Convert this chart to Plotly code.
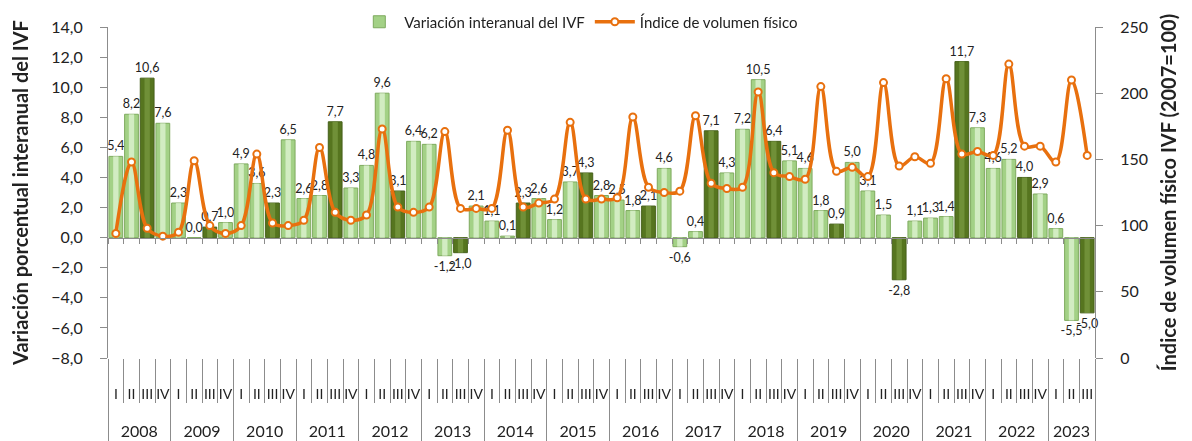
import plotly.graph_objects as go

# Datos trimestrales 2008-I a 2023-III
years = ["2008", "2009", "2010", "2011", "2012", "2013", "2014", "2015",
         "2016", "2017", "2018", "2019", "2020", "2021", "2022", "2023"]
quarters = ["I", "II", "III", "IV"]

# Variación interanual del IVF (%)
variacion = [5.4, 8.2, 10.6, 7.6,
             2.3, 0.0, 0.7, 1.0,
             4.9, 3.6, 2.3, 6.5,
             2.6, 2.8, 7.7, 3.3,
             4.8, 9.6, 3.1, 6.4,
             6.2, -1.2, -1.0, 2.1,
             1.1, 0.1, 2.3, 2.6,
             1.2, 3.7, 4.3, 2.8,
             2.5, 1.8, 2.1, 4.6,
             -0.6, 0.4, 7.1, 4.3,
             7.2, 10.5, 6.4, 5.1,
             4.6, 1.8, 0.9, 5.0,
             3.1, 1.5, -2.8, 1.1,
             1.3, 1.4, 11.7, 7.3,
             4.6, 5.2, 4.0, 2.9,
             0.6, -5.5, -5.0]

# Índice de volumen físico (2007=100)
ivf = [94, 148, 98, 92,
       95, 149, 100, 94,
       100, 154, 102, 100,
       104, 159, 110, 104,
       108, 173, 114, 110,
       114, 171, 113, 113,
       113, 172, 114, 117,
       120, 178, 120, 120,
       121, 182, 129, 125,
       126, 183, 132, 128,
       129, 201, 140, 137,
       135, 205, 141, 144,
       137, 208, 145, 152,
       147, 211, 154, 156,
       153, 222, 160, 160,
       148, 210, 153]

n = len(variacion)
idx = list(range(n))
q_labels = [quarters[i % 4] for i in idx]
q_bounds = [i - 0.5 for i in range(n + 1)]
year_centers = [min(4 * k + 1.5, (4 * k + n - 1) / 2) for k in range(len(years))]
year_bounds = [4 * k - 0.5 for k in range(len(years))] + [n - 0.5]

light, light_hi, light_edge = "#a3d186", "#e2f5d6", "#7eaa5e"
dark, dark_hi, dark_edge = "#56751f", "#7a9a42", "#46601a"
bar_col = [dark if q == "III" else light for q in q_labels]
bar_hi = [dark_hi if q == "III" else light_hi for q in q_labels]
bar_edge = [dark_edge if q == "III" else light_edge for q in q_labels]

orange = "#E8700E"
axis_gray = "#8c8c8c"

# la pagina tiene un margen de 8 px: la figura se reduce en esa medida
W, H, MB = 1184, 433, 83
paper_h = H - MB
y_top = (paper_h - 19) / paper_h
zero_pos = (8 / 22) * y_top

fig = go.Figure()

fig.add_trace(go.Bar(
    x=idx, y=variacion, width=0.88,
    marker=dict(color=bar_col, line=dict(color=bar_edge, width=1)),
    texttemplate="%{y:.1f}", textposition="outside", constraintext="none",
    textfont=dict(size=12.5, color="#222222"), cliponaxis=False,
    name="Variación interanual del IVF",
))
# brillo central de las barras
fig.add_trace(go.Bar(
    x=idx, y=variacion, width=0.34,
    marker=dict(color=bar_hi, line=dict(width=0)), opacity=0.75,
    showlegend=False, hoverinfo="skip",
))

fig.add_trace(go.Scatter(
    x=idx, y=ivf, yaxis="y2", mode="lines+markers",
    line=dict(color=orange, width=3.5, shape="spline", smoothing=1.0),
    marker=dict(symbol="circle", size=7, color="white",
                line=dict(color=orange, width=2)),
    name="Índice de volumen físico",
))

# trazas vacias para que se dibujen los ejes auxiliares
for ax in ["x2", "x3"]:
    fig.add_trace(go.Scatter(x=[0], y=[0], xaxis=ax, yaxis="y", mode="none",
                             showlegend=False, hoverinfo="skip"))

rng = [-0.5, n - 0.5]

fig.update_layout(
    width=W, height=H,
    margin=dict(l=100, r=97, t=0, b=MB, autoexpand=False),
    separators=",.",
    barmode="overlay",
    plot_bgcolor="white", paper_bgcolor="white",
    font=dict(family="Lato", size=14, color="#222222"),
    legend=dict(orientation="h", x=0.477, xanchor="center",
                y=(paper_h - 14) / paper_h, yanchor="middle",
                font=dict(size=15), bgcolor="rgba(0,0,0,0)", itemwidth=40),
    xaxis=dict(
        range=rng, tickmode="array", tickvals=idx, ticktext=q_labels,
        ticks="outside", ticklen=23, tickcolor="rgba(0,0,0,0)",
        tickfont=dict(size=14), showgrid=False, zeroline=False, showline=False,
        automargin=False,
        minor=dict(tickmode="array", tickvals=q_bounds, ticks="outside",
                   ticklen=44, tickcolor=axis_gray, tickwidth=1),
    ),
    xaxis2=dict(
        overlaying="x", anchor="free", position=zero_pos, range=rng,
        tickmode="array", tickvals=q_bounds, ticks="outside", ticklen=5,
        tickcolor=axis_gray, showticklabels=False, showline=True,
        linecolor=axis_gray, showgrid=False, zeroline=False, automargin=False,
    ),
    xaxis3=dict(
        overlaying="x", anchor="y", side="bottom", range=rng,
        tickmode="array", tickvals=year_centers, ticktext=years,
        ticks="outside", ticklen=59, tickcolor="rgba(0,0,0,0)",
        tickfont=dict(size=16), showgrid=False, zeroline=False, showline=False,
        automargin=False,
        minor=dict(tickmode="array", tickvals=year_bounds, ticks="outside",
                   ticklen=83, tickcolor=axis_gray, tickwidth=1),
    ),
    yaxis=dict(
        domain=[0, y_top],
        range=[-8, 14], tick0=0, dtick=2, tickformat=".1f",
        ticks="outside", ticklen=7, tickcolor=axis_gray, ticklabelstandoff=14,
        showline=True, linecolor=axis_gray, showgrid=False, zeroline=False,
        tickfont=dict(size=16), automargin=False,
        title=dict(text="<b>Variación porcentual interanual del IVF</b>",
                   font=dict(size=20), standoff=18),
    ),
    yaxis2=dict(
        overlaying="y", side="right", range=[0, 250], dtick=50,
        ticks="outside", ticklen=7, tickcolor=axis_gray, ticklabelstandoff=14,
        showline=True, linecolor=axis_gray, showgrid=False, zeroline=False,
        tickfont=dict(size=16), automargin=False,
        title=dict(text="<b>Índice de volumen físico IVF (2007=100)</b>",
                   font=dict(size=20), standoff=14),
    ),
)

fig.write_html("out.html")
